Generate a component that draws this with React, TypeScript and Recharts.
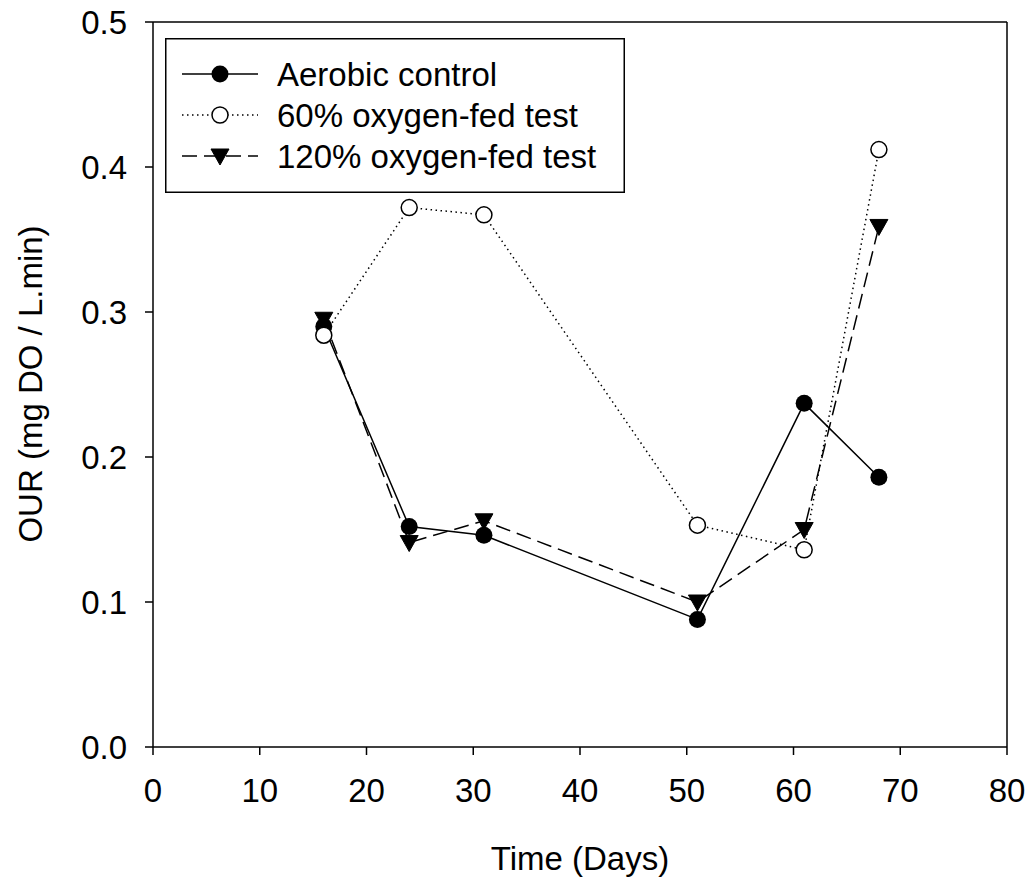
import React from 'react';
import { LineChart, Line, XAxis, YAxis, Legend, ReferenceLine } from 'recharts';

// values
const days = [16, 24, 31, 51, 61, 68];
const aerobicControl = [0.29, 0.152, 0.146, 0.088, 0.237, 0.186];
const oxygen60 = [0.284, 0.372, 0.367, 0.153, 0.136, 0.412];
const oxygen120 = [0.295, 0.141, 0.156, 0.1, 0.15, 0.359];

const xTicks = [0, 10, 20, 30, 40, 50, 60, 70, 80];
const yTicks = [0, 0.1, 0.2, 0.3, 0.4, 0.5];

const FONT = '"Liberation Sans", Arial, sans-serif';
const FS = 33;

const data = days.map((d, i) => ({
  day: d,
  aerobic: aerobicControl[i],
  o60: oxygen60[i],
  o120: oxygen120[i],
}));

const Triangle = (props: any) => {
  const { cx, cy } = props;
  if (cx == null || cy == null) return null;
  return <polygon points={`${cx - 9},${cy - 7} ${cx + 9},${cy - 7} ${cx},${cy + 9}`} fill="#000" stroke="#000" strokeWidth={1} strokeDasharray="none" />;
};

const FilledDot = (props: any) => {
  const { cx, cy } = props;
  if (cx == null || cy == null) return null;
  return <circle cx={cx} cy={cy} r={8.5} fill="#000" stroke="none" />;
};

const OpenDot = (props: any) => {
  const { cx, cy } = props;
  if (cx == null || cy == null) return null;
  return <circle cx={cx} cy={cy} r={8} fill="#fff" stroke="#000" strokeWidth={1.5} strokeDasharray="none" />;
};

const legendRows = [
  { label: 'Aerobic control', dash: undefined, marker: 'filled' },
  { label: '60% oxygen-fed test', dash: '1.5 3.5', marker: 'open' },
  { label: '120% oxygen-fed test', dash: '15 7', marker: 'tri' },
];

const LegendBox = () => (
  <svg width={460} height={155} style={{ display: 'block' }}>
    <rect x={0.75} y={0.75} width={458.5} height={153.5} fill="#fff" stroke="#000" strokeWidth={1.5} />
    {legendRows.map((r, i) => {
      const cy = 36 + i * 41;
      return (
        <g key={r.label}>
          <line x1={17} x2={93} y1={cy} y2={cy} stroke="#000" strokeWidth={1.5} strokeDasharray={r.dash} />
          {r.marker === 'filled' && <FilledDot cx={55} cy={cy} />}
          {r.marker === 'open' && <OpenDot cx={55} cy={cy} />}
          {r.marker === 'tri' && <Triangle cx={55} cy={cy} />}
          <text x={112} y={cy} dy="0.36em" fontFamily={FONT} fontSize={FS} fill="#000">
            {r.label}
          </text>
        </g>
      );
    })}
  </svg>
);

export default function App() {
  return (
    <div style={{ position: 'absolute', left: 0, top: 0, background: '#fff' }}>
      <LineChart width={1034} height={879} data={data} margin={{ top: 22, right: 27, left: 0, bottom: 0 }}>
        <XAxis
          dataKey="day"
          type="number"
          domain={[0, 80]}
          ticks={xTicks}
          allowDataOverflow
          height={132}
          tickSize={8}
          tickMargin={24}
          axisLine={{ stroke: '#000', strokeWidth: 1.5 }}
          tickLine={{ stroke: '#000', strokeWidth: 1.5 }}
          tick={{ fill: '#000', fontSize: FS, fontFamily: FONT }}
          label={{
            content: () => (
              <text x={580} y={870} textAnchor="middle" fontFamily={FONT} fontSize={FS} fill="#000">
                Time (Days)
              </text>
            ),
          }}
        />
        <YAxis
          type="number"
          domain={[0, 0.5]}
          ticks={yTicks}
          allowDataOverflow
          width={153}
          tickSize={8}
          tickMargin={18}
          tickFormatter={(v: number) => v.toFixed(1)}
          axisLine={{ stroke: '#000', strokeWidth: 1.5 }}
          tickLine={{ stroke: '#000', strokeWidth: 1.5 }}
          tick={{ fill: '#000', fontSize: FS, fontFamily: FONT }}
          label={{
            content: () => (
              <text
                x={42}
                y={384}
                transform="rotate(-90 42 384)"
                textAnchor="middle"
                fontFamily={FONT}
                fontSize={FS}
                fill="#000"
              >
                OUR (mg DO / L.min)
              </text>
            ),
          }}
        />
        <ReferenceLine y={0.5} stroke="#000" strokeWidth={1.5} />
        <ReferenceLine x={80} stroke="#000" strokeWidth={1.5} />
        <Legend
          layout="horizontal"
          verticalAlign="middle"
          align="center"
          wrapperStyle={{ left: 165, top: 38, width: 460, height: 155 }}
          content={() => <LegendBox />}
        />
        <Line
          dataKey="o120"
          name="120% oxygen-fed test"
          stroke="#000"
          strokeWidth={1.5}
          strokeDasharray="15 7"
          dot={<Triangle />}
          activeDot={false}
          isAnimationActive={false}
        />
        <Line
          dataKey="aerobic"
          name="Aerobic control"
          stroke="#000"
          strokeWidth={1.5}
          dot={<FilledDot />}
          activeDot={false}
          isAnimationActive={false}
        />
        <Line
          dataKey="o60"
          name="60% oxygen-fed test"
          stroke="#000"
          strokeWidth={1.5}
          strokeDasharray="1.5 3.5"
          dot={<OpenDot />}
          activeDot={false}
          isAnimationActive={false}
        />
      </LineChart>
    </div>
  );
}
